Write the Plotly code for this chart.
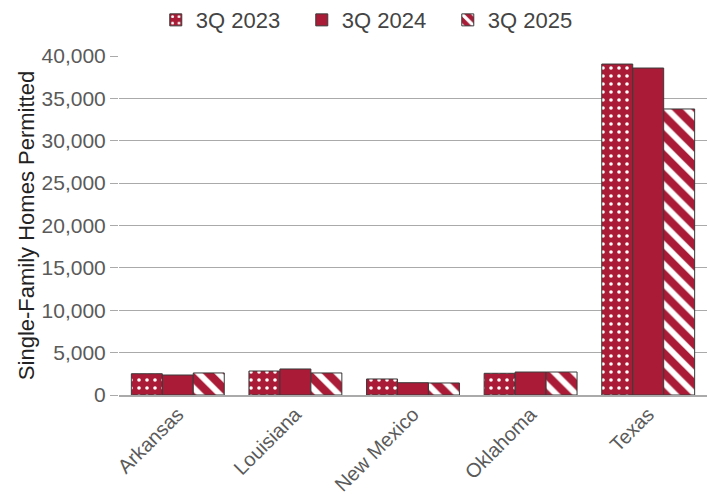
import plotly.graph_objects as go

states = ["Arkansas", "Louisiana", "New Mexico", "Oklahoma", "Texas"]
q3_2023 = [2510, 2830, 1890, 2560, 39050]
q3_2024 = [2360, 3070, 1450, 2710, 38580]
q3_2025 = [2600, 2600, 1420, 2710, 33750]
series_names = ["3Q 2023", "3Q 2024", "3Q 2025"]
y_ticks = [0, 5000, 10000, 15000, 20000, 25000, 30000, 35000, 40000]

RED = "#A91B36"
FONT = "Liberation Sans"

fig = go.Figure()
fig.add_bar(x=states, y=q3_2023, name=series_names[0],
            marker=dict(color=RED, line=dict(color="#3a3a3a", width=1),
                        pattern=dict(shape=".", fgcolor="white", bgcolor=RED, fgopacity=1,
                                     size=8, solidity=0.16, fillmode="replace")))
fig.add_bar(x=states, y=q3_2024, name=series_names[1],
            marker=dict(color=RED, line=dict(color="#3a3a3a", width=1)))
fig.add_bar(x=states, y=q3_2025, name=series_names[2],
            marker=dict(color=RED, line=dict(color="#3a3a3a", width=1),
                        pattern=dict(shape="\\", fgcolor="white", bgcolor=RED, fgopacity=1,
                                     size=14, solidity=0.42, fillmode="replace")))

fig.update_layout(
    width=711, height=497,
    margin=dict(l=119, r=4, t=56, b=102, autoexpand=False),
    plot_bgcolor="white", paper_bgcolor="white",
    barmode="group", bargap=0.21, bargroupgap=0,
    font=dict(family=FONT, size=20, color="#5a5a5a"),
    legend=dict(orientation="h", x=0.435, xanchor="center", y=1.106, yanchor="middle",
                font=dict(size=22, color="#444444"), traceorder="normal",
                itemwidth=30, entrywidth=101, entrywidthmode="pixels"),
    xaxis=dict(tickangle=-45, showline=True, linecolor="#aaaaaa", linewidth=1.5,
               ticks="", tickfont=dict(size=20, color="#5a5a5a"), ticklabelstandoff=-2),
    yaxis=dict(range=[0, 40000], tickvals=y_ticks, tickformat=",",
               showgrid=True, gridcolor="#aaaaaa", gridwidth=1.2,
               ticks="outside", ticklen=8, tickcolor="#aaaaaa", zeroline=False,
               title=dict(text="Single-Family Homes Permitted", font=dict(size=22, color="#222222"),
                          standoff=0),
               tickfont=dict(size=21, color="#5a5a5a")),
)

fig.write_html("out.html")
